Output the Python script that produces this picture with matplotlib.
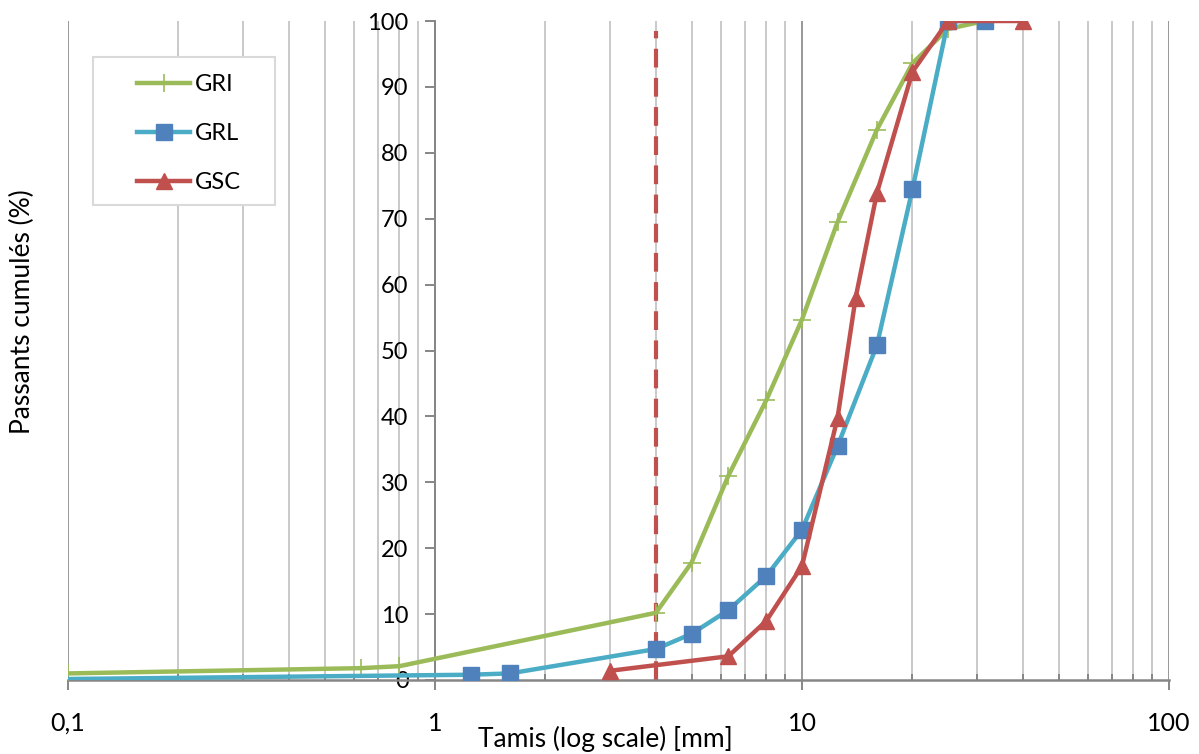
import matplotlib
matplotlib.use("Agg")
import matplotlib.pyplot as plt
from matplotlib.ticker import FixedLocator, LogLocator, NullFormatter
from matplotlib.patches import Rectangle

plt.rcParams['font.family'] = ['Lato', 'DejaVu Sans']

# Grain size curves (sieve size in mm, cumulative passing in %)
gri_sizes = [0.1, 0.63, 0.8, 4, 5, 6.3, 8, 10, 12.5, 16, 20, 25, 31.5]
gri_pass = [1.0, 1.8, 2.1, 10.2, 17.8, 31.0, 42.5, 54.7, 69.5, 83.5, 93.6, 98.8, 100]

grl_sizes = [0.1, 1.25, 1.6, 4, 5, 6.3, 8, 10, 12.5, 16, 20, 25, 31.5]
grl_pass = [0.15, 0.8, 1.0, 4.7, 7.0, 10.6, 15.8, 22.8, 35.5, 50.8, 74.5, 100, 100]

gsc_sizes = [3.0, 6.3, 8, 10, 12.5, 14, 16, 20, 25, 40]
gsc_pass = [1.4, 3.6, 9.0, 17.3, 39.8, 58.0, 73.9, 92.3, 100, 100]

cutoff_size = 4
cutoff_top = 98.5

x_major = [0.1, 1, 10, 100]
x_major_labels = ['0,1', '1', '10', '100']
y_ticks = list(range(0, 101, 10))

W, H = 1199, 754
fig = plt.figure(figsize=(W / 100, H / 100), dpi=100)
ax = fig.add_axes([68 / W, 1 - 680 / H, (1169 - 68) / W, (680 - 21) / H])

axis_grey = '#868686'
ax.set_xscale('log')
ax.set_xlim(0.1, 100)
ax.set_ylim(0, 100)

# vertical grid lines: darker for decades, light for the rest
ax.xaxis.set_major_locator(FixedLocator(x_major))
ax.xaxis.set_minor_locator(LogLocator(base=10, subs=range(2, 10)))
ax.xaxis.set_minor_formatter(NullFormatter())
ax.set_xticklabels(x_major_labels)
ax.grid(True, which='major', axis='x', color=axis_grey, linewidth=1.2)
ax.grid(True, which='minor', axis='x', color='#C0C0C0', linewidth=1.2)
ax.set_axisbelow(True)

ax.set_yticks(y_ticks)

for s in ['top', 'right']:
    ax.spines[s].set_visible(False)
ax.spines['left'].set_position(('data', 1))
ax.spines['left'].set_color(axis_grey)
ax.spines['bottom'].set_color(axis_grey)
ax.spines['left'].set_linewidth(1.4)
ax.spines['bottom'].set_linewidth(1.8)

ax.tick_params(axis='x', which='major', direction='out', length=7, width=1.4,
               color=axis_grey, labelsize=18, pad=16)
ax.tick_params(axis='x', which='minor', direction='in', length=4, width=1.4,
               color=axis_grey)
ax.tick_params(axis='y', direction='out', length=7, width=1.4, color=axis_grey,
               labelsize=17, pad=12)

# curves
ax.plot(gri_sizes, gri_pass, color='#9BBB59', linewidth=3.2, marker='+',
        markersize=13, markeredgewidth=1.2, label='GRI', zorder=3)
ax.plot(grl_sizes, grl_pass, color='#4BACC6', linewidth=3.2, marker='s',
        markersize=11, markerfacecolor='#4F81BD', markeredgecolor='#4F81BD',
        markevery=list(range(1, len(grl_sizes))), label='GRL', zorder=3)
ax.plot(gsc_sizes, gsc_pass, color='#C0504D', linewidth=3.2, marker='^',
        markersize=12, markerfacecolor='#C0504D', markeredgecolor='#C0504D',
        label='GSC', zorder=4)

# 4 mm limit
ax.vlines(cutoff_size, 0, cutoff_top, colors='#C0504D', linewidth=3,
          linestyles=(0, (4.5, 2.5)), zorder=2)

# legend box
ax.add_patch(Rectangle((0.0227, 0.7208), 0.1653, 0.2246, transform=ax.transAxes,
                       facecolor='white', edgecolor='#D9D9D9', linewidth=1.5,
                       zorder=5, clip_on=False))
leg = ax.legend(loc='upper left', bbox_to_anchor=(0.0627, 0.919), frameon=False,
                fontsize=17, handlelength=2.25, handletextpad=0.2,
                labelspacing=1.18, borderpad=0, borderaxespad=0)
leg.set_zorder(6)

fig.text(605 / W, 1 - 739 / H, 'Tamis (log scale) [mm]', ha='center', va='center',
         fontsize=19)
fig.text(22 / W, 1 - 312 / H, 'Passants cumulés (%)', ha='center', va='center',
         rotation=90, fontsize=19)

fig.savefig('out.png', dpi=100, facecolor='white')
